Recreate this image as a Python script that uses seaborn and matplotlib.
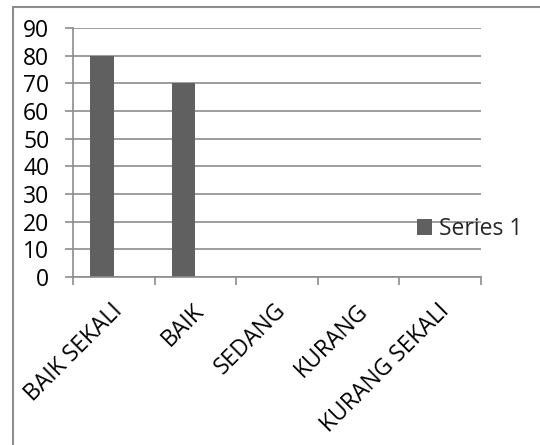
import matplotlib
matplotlib.use("Agg")
import matplotlib.pyplot as plt
import seaborn as sns
import pandas as pd
from matplotlib.patches import Rectangle

categories = ["BAIK SEKALI", "BAIK", "SEDANG", "KURANG", "KURANG SEKALI"]
series_1 = [80, 70, 0, 0, 0]
y_ticks = [0, 10, 20, 30, 40, 50, 60, 70, 80, 90]
series_name = "Series 1"

df = pd.DataFrame({"kategori": categories, "nilai": series_1})

sns.set_theme(style="white")
plt.rcParams["font.family"] = ["Open Sans", "DejaVu Sans"]

fig = plt.figure(figsize=(5.4, 4.45), dpi=100)
ax = fig.add_axes([73 / 540, 1 - 277 / 445, (481 - 73) / 540, (277 - 28) / 445])

bar_color = "#606060"
sns.barplot(data=df, x="kategori", y="nilai", color=bar_color, width=0.286,
            saturation=1, ax=ax, label=series_name, linewidth=0)

# bars sit left of the category centre, as in a two-slot clustered layout
for p in ax.patches:
    p.set_x(p.get_x() - 0.143)

ax.set_xlim(-0.5, len(categories) - 0.5)
ax.set_ylim(0, 90)
ax.set_yticks(y_ticks)
ax.yaxis.grid(True, color="#8c8c8c", linewidth=1.2)
ax.set_axisbelow(True)
ax.set_xlabel("")
ax.set_ylabel("")

for side in ["top", "right"]:
    ax.spines[side].set_visible(False)
for side in ["left", "bottom"]:
    ax.spines[side].set_color("#8c8c8c")
    ax.spines[side].set_linewidth(1.2)

ax.set_xticks([i - 0.5 for i in range(len(categories) + 1)], minor=False)
ax.set_xticklabels([])
ax.tick_params(axis="x", which="major", direction="out", length=6, width=1.2,
               color="#8c8c8c", bottom=True)
ax.tick_params(axis="y", direction="out", length=6, width=1.2, color="#8c8c8c",
               left=True, labelsize=16.5, labelcolor="black", pad=11)

for i, name in enumerate(categories):
    ax.text(i + 0.12, -12.5, name, rotation=45, ha="right", va="baseline",
            rotation_mode="anchor", fontsize=16.5, color="black", clip_on=False)

leg = ax.legend(loc="center left", bbox_to_anchor=(0.843, 0.193), frameon=False,
                fontsize=16.5, handlelength=0.65, handleheight=0.65,
                handletextpad=0.3, borderaxespad=0, borderpad=0)

fig.patches.append(Rectangle((13 / 540, -0.1), 1.2, 1 - 7 / 445 + 0.1,
                             transform=fig.transFigure, fill=False,
                             edgecolor="#8c8c8c", linewidth=1.5))

fig.savefig("out.png", dpi=100)
